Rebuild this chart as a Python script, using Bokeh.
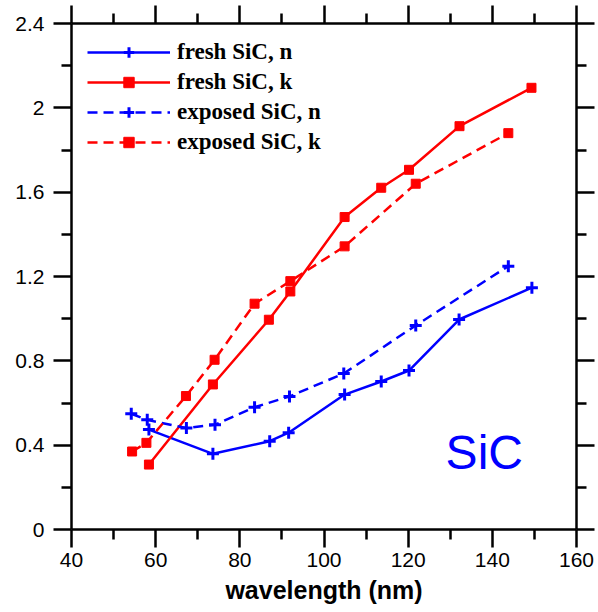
from bokeh.plotting import figure
from bokeh.models import (Range1d, LinearAxis, FixedTicker, NumeralTickFormatter,
                          Legend, LegendItem, Label)
from bokeh.embed import file_html
from bokeh.resources import INLINE

# ---- data ----
fresh_n_x = [58.4, 73.6, 87.1, 91.6, 104.9, 113.6, 120.2, 132.1, 149.4]
fresh_n_y = [0.474, 0.359, 0.419, 0.459, 0.640, 0.702, 0.754, 0.996, 1.147]

fresh_k_x = [58.4, 73.6, 86.9, 92.0, 104.9, 113.6, 120.2, 132.2, 149.3]
fresh_k_y = [0.308, 0.688, 0.995, 1.129, 1.482, 1.621, 1.706, 1.913, 2.095]

exp_n_x = [54.2, 58.0, 67.3, 74.1, 83.5, 91.8, 104.7, 121.8, 143.8]
exp_n_y = [0.549, 0.520, 0.481, 0.497, 0.580, 0.631, 0.740, 0.968, 1.249]

exp_k_x = [54.4, 57.8, 67.2, 74.0, 83.5, 92.0, 104.9, 121.8, 143.8]
exp_k_y = [0.370, 0.411, 0.633, 0.805, 1.071, 1.178, 1.343, 1.640, 1.880]

labels = ["fresh SiC, n", "fresh SiC, k", "exposed SiC, n", "exposed SiC, k"]
x_label = "wavelength (nm)"
x_ticks = [40, 60, 80, 100, 120, 140, 160]
x_minor = [50, 70, 90, 110, 130, 150]
y_ticks = [0, 0.4, 0.8, 1.2, 1.6, 2.0, 2.4]
y_minor = [0.2, 0.6, 1.0, 1.4, 1.8, 2.2]
annot_text = "SiC"
annot_x, annot_y = 128.9, 0.365

BLUE = "#0000ff"
RED = "#ff0000"

p = figure(width=598, height=612, output_backend="svg", toolbar_location=None,
           x_range=Range1d(40, 160), y_range=Range1d(0, 2.4),
           min_border_left=71, min_border_right=22, min_border_top=23, min_border_bottom=83,
           x_axis_location=None, y_axis_location=None)
p.grid.visible = False
p.outline_line_color = None
p.background_fill_color = "white"
p.border_fill_color = "white"

AXW = 2.5

def style_axis(ax, show_labels):
    ax.axis_line_width = AXW
    ax.axis_line_color = "black"
    ax.major_tick_line_width = AXW
    ax.minor_tick_line_width = AXW
    ax.major_tick_out = 18
    ax.major_tick_in = 0
    ax.minor_tick_out = 10
    ax.minor_tick_in = 0
    ax.major_label_text_font = "Liberation Sans"
    ax.major_label_text_font_size = "21px" if show_labels else "0px"
    ax.major_label_text_color = "black"
    if not show_labels:
        ax.major_label_standoff = 0

xt = FixedTicker(ticks=x_ticks, minor_ticks=x_minor)
yt = FixedTicker(ticks=y_ticks, minor_ticks=y_minor)
yfmt = NumeralTickFormatter(format="0.[0]")

xb = LinearAxis(ticker=xt, axis_label=x_label)
style_axis(xb, True)
xb.major_label_standoff = 5
xb.axis_label_text_font = "Liberation Sans"
xb.axis_label_text_font_style = "bold"
xb.axis_label_text_font_size = "25px"
xb.axis_label_text_color = "black"
xb.axis_label_standoff = 6
p.add_layout(xb, "below")

xa = LinearAxis(ticker=xt)
style_axis(xa, False)
p.add_layout(xa, "above")

yl = LinearAxis(ticker=yt, formatter=yfmt)
style_axis(yl, True)
yl.major_label_standoff = 9
p.add_layout(yl, "left")

yr = LinearAxis(ticker=yt, formatter=yfmt)
style_axis(yr, False)
p.add_layout(yr, "right")

LW = 2.5
DASH = "10 6"

l1 = p.line(fresh_n_x, fresh_n_y, line_color=BLUE, line_width=LW)
m1 = p.scatter(fresh_n_x, fresh_n_y, marker="cross", size=12, line_color=BLUE, line_width=3)
l2 = p.line(fresh_k_x, fresh_k_y, line_color=RED, line_width=LW)
m2 = p.scatter(fresh_k_x, fresh_k_y, marker="square", size=9, fill_color=RED, line_color=RED)
l3 = p.line(exp_n_x, exp_n_y, line_color=BLUE, line_width=LW, line_dash=DASH)
m3 = p.scatter(exp_n_x, exp_n_y, marker="cross", size=12, line_color=BLUE, line_width=3)
l4 = p.line(exp_k_x, exp_k_y, line_color=RED, line_width=LW, line_dash=DASH)
m4 = p.scatter(exp_k_x, exp_k_y, marker="square", size=9, fill_color=RED, line_color=RED)

legend = Legend(items=[
    LegendItem(label=labels[0], renderers=[l1, m1]),
    LegendItem(label=labels[1], renderers=[l2, m2]),
    LegendItem(label=labels[2], renderers=[l3, m3]),
    LegendItem(label=labels[3], renderers=[l4, m4]),
], location="top_left")
legend.margin = 16
legend.padding = 0
legend.glyph_width = 83
legend.glyph_height = 26
legend.label_height = 26
legend.spacing = 4
legend.label_standoff = 7
legend.label_text_font = "Liberation Serif"
legend.label_text_font_style = "bold"
legend.label_text_font_size = "23px"
legend.label_text_color = "black"
legend.border_line_color = None
legend.background_fill_alpha = 0
p.add_layout(legend)

p.add_layout(Label(x=annot_x, y=annot_y, text=annot_text, text_color=BLUE,
                   text_font="Liberation Sans", text_font_size="48px",
                   text_baseline="alphabetic"))

open("out.html", "w").write(file_html(p, INLINE))
